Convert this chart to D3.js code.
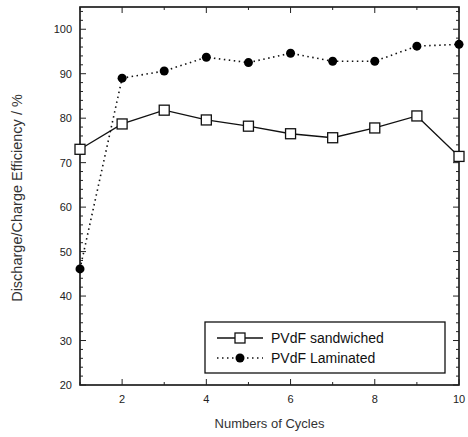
<!DOCTYPE html>
<html>
<head>
<meta charset="utf-8">
<script src="https://cdn.jsdelivr.net/npm/d3@7"></script>
<style>
  body { margin: 0; background: #fff; }
  text { font-family: "Liberation Sans", Arial, sans-serif; }
</style>
</head>
<body>
<div id="chart"></div>
<script>
// data
var cycles = [1, 2, 3, 4, 5, 6, 7, 8, 9, 10];
var sandwiched = [73.0, 78.7, 81.8, 79.6, 78.2, 76.5, 75.6, 77.8, 80.5, 71.4];
var laminated = [46.1, 89.0, 90.6, 93.7, 92.5, 94.6, 92.8, 92.8, 96.2, 96.6];
var xTicks = [2, 4, 6, 8, 10];
var yTicks = [20, 30, 40, 50, 60, 70, 80, 90, 100];
var seriesNames = ["PVdF sandwiched", "PVdF Laminated"];

// dimensions and margins
var margin = { top: 7, right: 9, bottom: 52, left: 80 },
    width = 468 - margin.left - margin.right,
    height = 437 - margin.top - margin.bottom;

var svg = d3.select("#chart")
    .append("svg")
    .attr("width", 468)
    .attr("height", 437)
    .append("g")
    .attr("transform", "translate(" + margin.left + "," + margin.top + ")");

var x = d3.scaleLinear().domain([1, 10]).range([0, width]);
var y = d3.scaleLinear().domain([20, 105]).range([height, 0]);

// frame
svg.append("rect")
    .attr("width", width).attr("height", height)
    .attr("fill", "none").attr("stroke", "#111").attr("stroke-width", 1.6);

// ticks (inward), major and minor
var yMinor = d3.range(22, 105, 2).filter(function (v) { return v % 10 != 0; });
var xMinor = d3.range(1, 10, 2);

function tickGroup(vals, len, axis) {
  vals.forEach(function (v) {
    if (axis == "y") {
      svg.append("line").attr("x1", 0).attr("x2", len).attr("y1", y(v)).attr("y2", y(v))
          .attr("stroke", "#222").attr("stroke-width", 1);
      svg.append("line").attr("x1", width).attr("x2", width - len).attr("y1", y(v)).attr("y2", y(v))
          .attr("stroke", "#222").attr("stroke-width", 1);
    } else {
      svg.append("line").attr("x1", x(v)).attr("x2", x(v)).attr("y1", height).attr("y2", height - len)
          .attr("stroke", "#222").attr("stroke-width", 1);
      svg.append("line").attr("x1", x(v)).attr("x2", x(v)).attr("y1", 0).attr("y2", len)
          .attr("stroke", "#222").attr("stroke-width", 1);
    }
  });
}
tickGroup(yTicks, 6, "y");
tickGroup(yMinor, 3, "y");
tickGroup(xTicks, 6, "x");
tickGroup(xMinor, 3, "x");

// tick labels
svg.selectAll(".ylab").data(yTicks).enter().append("text")
    .attr("x", -8).attr("y", function (d) { return y(d) + 4; })
    .attr("text-anchor", "end").attr("font-size", "11px").attr("fill", "#222")
    .text(function (d) { return d; });

svg.selectAll(".xlab").data(xTicks).enter().append("text")
    .attr("x", function (d) { return x(d); }).attr("y", height + 18)
    .attr("text-anchor", "middle").attr("font-size", "11px").attr("fill", "#222")
    .text(function (d) { return d; });

// axis titles
svg.append("text")
    .attr("x", x(5.5)).attr("y", height + 43)
    .attr("text-anchor", "middle").attr("font-size", "13px").attr("fill", "#333")
    .text("Numbers of Cycles");

svg.append("text")
    .attr("transform", "translate(" + (-58) + "," + (198 - margin.top) + ") rotate(-90)")
    .attr("text-anchor", "middle").attr("font-size", "14.5px").attr("fill", "#333")
    .text("Discharge/Charge Efficiency / %");

// lines
var line = function (vals) {
  return d3.line().x(function (d, i) { return x(cycles[i]); }).y(function (d) { return y(d); })(vals);
};

svg.append("path").attr("d", line(laminated))
    .attr("fill", "none").attr("stroke", "#111").attr("stroke-width", 1.6)
    .attr("stroke-dasharray", "1.5,3.5");

svg.append("path").attr("d", line(sandwiched))
    .attr("fill", "none").attr("stroke", "#111").attr("stroke-width", 1.3);

svg.selectAll(".lam").data(laminated).enter().append("circle")
    .attr("cx", function (d, i) { return x(cycles[i]); })
    .attr("cy", function (d) { return y(d); })
    .attr("r", 4.5).attr("fill", "#000");

svg.selectAll(".sand").data(sandwiched).enter().append("rect")
    .attr("x", function (d, i) { return x(cycles[i]) - 5; })
    .attr("y", function (d) { return y(d) - 5; })
    .attr("width", 10).attr("height", 10)
    .attr("fill", "#fff").attr("stroke", "#111").attr("stroke-width", 1.3);

// legend
var lg = svg.append("g").attr("transform", "translate(" + (205 - margin.left) + "," + (322 - margin.top) + ")");
lg.append("rect").attr("width", 240).attr("height", 51)
    .attr("fill", "#fff").attr("stroke", "#111").attr("stroke-width", 1.3);

lg.append("line").attr("x1", 12).attr("x2", 58).attr("y1", 16).attr("y2", 16)
    .attr("stroke", "#111").attr("stroke-width", 1.3);
lg.append("rect").attr("x", 30).attr("y", 11).attr("width", 10).attr("height", 10)
    .attr("fill", "#fff").attr("stroke", "#111").attr("stroke-width", 1.3);
lg.append("text").attr("x", 66).attr("y", 21).attr("font-size", "14px").attr("fill", "#111")
    .text(seriesNames[0]);

lg.append("line").attr("x1", 12).attr("x2", 58).attr("y1", 36).attr("y2", 36)
    .attr("stroke", "#111").attr("stroke-width", 1.6).attr("stroke-dasharray", "1.5,3.5");
lg.append("circle").attr("cx", 35).attr("cy", 36).attr("r", 4.5).attr("fill", "#000");
lg.append("text").attr("x", 66).attr("y", 41).attr("font-size", "14px").attr("fill", "#111")
    .text(seriesNames[1]);
</script>
</body>
</html>
